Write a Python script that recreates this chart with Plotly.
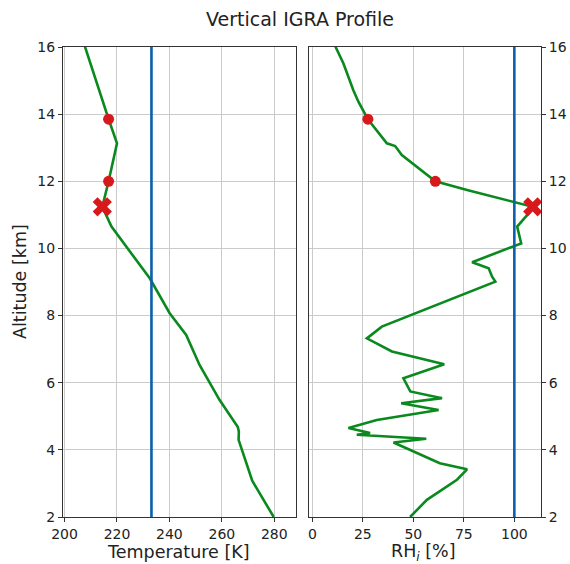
import plotly.graph_objects as go

# Temperature profile
temp_alt = [16.3, 16.03, 13.85, 13.13, 12.0, 11.24, 10.65, 9.11, 8.07, 7.42, 6.53, 5.49, 4.68, 4.54, 4.30, 3.16, 3.08, 2.0]
temp_K = [206.4, 207.7, 216.8, 220.0, 216.8, 214.4, 217.9, 232.5, 240.1, 246.4, 251.5, 259.1, 266.1, 266.5, 266.4, 271.2, 271.6, 279.8]

# RH over ice profile
rh_alt = [16.3, 16.03, 15.51, 14.71, 14.37, 13.85, 13.13, 13.05, 12.78, 12.0, 11.74, 11.39, 11.24, 10.99, 10.65,
          10.15, 9.59, 9.41, 9.16, 9.01, 7.67, 7.32, 6.93, 6.55, 6.18, 6.13, 5.74, 5.54, 5.39, 5.19, 4.89,
          4.65, 4.50, 4.45, 4.33, 4.22, 3.60, 3.42, 3.11, 2.51, 2.0]
rh_val = [9.8, 11.3, 15.4, 20.3, 22.8, 27.5, 36.9, 41.0, 44.3, 60.9, 76.6, 99.7, 109.1, 106.3, 101.4,
          103.4, 79.1, 87.3, 89.0, 90.6, 34.4, 27.0, 39.4, 65.3, 47.6, 45.1, 48.5, 64.2, 44.0, 62.5, 31.9,
          17.9, 28.6, 22.0, 56.4, 40.2, 63.1, 76.6, 71.6, 56.7, 48.4]

# Highlighted levels
dot_alt = [13.85, 12.0]
dot_T = [216.8, 216.8]
dot_RH = [27.5, 60.9]
x_alt = [11.24]
x_T = [214.4]
x_RH = [109.1]

# Threshold lines
T_thresh = 233.15
RH_thresh = 100

alt_ticks = [2, 4, 6, 8, 10, 12, 14, 16]
T_ticks = [200, 220, 240, 260, 280]
RH_ticks = [0, 25, 50, 75, 100]

GREEN = "#0a8a1e"
BLUE = "#0b5fad"
RED = "#d7191c"
TXT = "#222222"
FONT = "DejaVu Sans"

fig = go.Figure()
fig.add_trace(go.Scatter(x=temp_K, y=temp_alt, mode="lines", line=dict(color=GREEN, width=2.6),
                         xaxis="x", yaxis="y", showlegend=False))
fig.add_trace(go.Scatter(x=[T_thresh, T_thresh], y=[0, 20], mode="lines", line=dict(color=BLUE, width=2.6),
                         xaxis="x", yaxis="y", showlegend=False))
fig.add_trace(go.Scatter(x=dot_T, y=dot_alt, mode="markers", marker=dict(color=RED, size=11),
                         xaxis="x", yaxis="y", showlegend=False))
fig.add_trace(go.Scatter(x=x_T, y=x_alt, mode="markers", marker=dict(color=RED, size=17, symbol="x"),
                         xaxis="x", yaxis="y", showlegend=False))

fig.add_trace(go.Scatter(x=rh_val, y=rh_alt, mode="lines", line=dict(color=GREEN, width=2.6),
                         xaxis="x2", yaxis="y2", showlegend=False))
fig.add_trace(go.Scatter(x=[RH_thresh, RH_thresh], y=[0, 20], mode="lines", line=dict(color=BLUE, width=2.6),
                         xaxis="x2", yaxis="y2", showlegend=False))
fig.add_trace(go.Scatter(x=dot_RH, y=dot_alt, mode="markers", marker=dict(color=RED, size=11),
                         xaxis="x2", yaxis="y2", showlegend=False))
fig.add_trace(go.Scatter(x=x_RH, y=x_alt, mode="markers", marker=dict(color=RED, size=17, symbol="x"),
                         xaxis="x2", yaxis="y2", showlegend=False))

axis_common = dict(showline=True, linecolor="#333333", linewidth=1, mirror=True,
                   ticks="outside", ticklen=4, tickcolor="#333333", automargin=False,
                   showgrid=True, gridcolor="#cbcbcb", gridwidth=1, zeroline=False,
                   tickfont=dict(family=FONT, size=14, color=TXT))

W, H = 570, 564
ML, MR, MT, MB = 63, 29, 47, 47

def px_x(p):
    return (p - ML) / (W - ML - MR)

def px_y(p):
    return (H - MB - p) / (H - MT - MB)

fig.update_layout(
    width=W, height=H,
    margin=dict(l=ML, r=MR, t=MT, b=MB),
    paper_bgcolor="white", plot_bgcolor="white",
    title=dict(text="Vertical IGRA Profile", x=300 / W, xanchor="center", y=1 - 19 / H, yanchor="middle",
               font=dict(family=FONT, size=19, color=TXT)),
    xaxis=dict(domain=[0, px_x(296)], range=[199.4, 288.3], tickvals=T_ticks, anchor="y", **axis_common),
    yaxis=dict(domain=[0, 1], range=[2, 16], tickvals=alt_ticks, anchor="x", **axis_common),
    xaxis2=dict(domain=[px_x(309.3), 1], range=[-1.5, 113.2], tickvals=RH_ticks, anchor="y2", **axis_common),
    yaxis2=dict(domain=[0, 1], range=[2, 16], tickvals=alt_ticks, side="right", anchor="x2", **axis_common),
    annotations=[
        dict(text="Temperature [K]", x=px_x(178), y=px_y(552), xref="paper", yref="paper",
             xanchor="center", yanchor="middle", showarrow=False,
             font=dict(family=FONT, size=17.5, color=TXT)),
        dict(text="RH<sub><i>i</i></sub> [%]", x=px_x(423), y=px_y(552), xref="paper", yref="paper",
             xanchor="center", yanchor="middle", showarrow=False,
             font=dict(family=FONT, size=17.5, color=TXT)),
        dict(text="Altitude [km]", x=px_x(20), y=px_y(282), xref="paper", yref="paper",
             xanchor="center", yanchor="middle", showarrow=False, textangle=-90,
             font=dict(family=FONT, size=17.5, color=TXT)),
    ],
)

fig.write_html("out.html")
